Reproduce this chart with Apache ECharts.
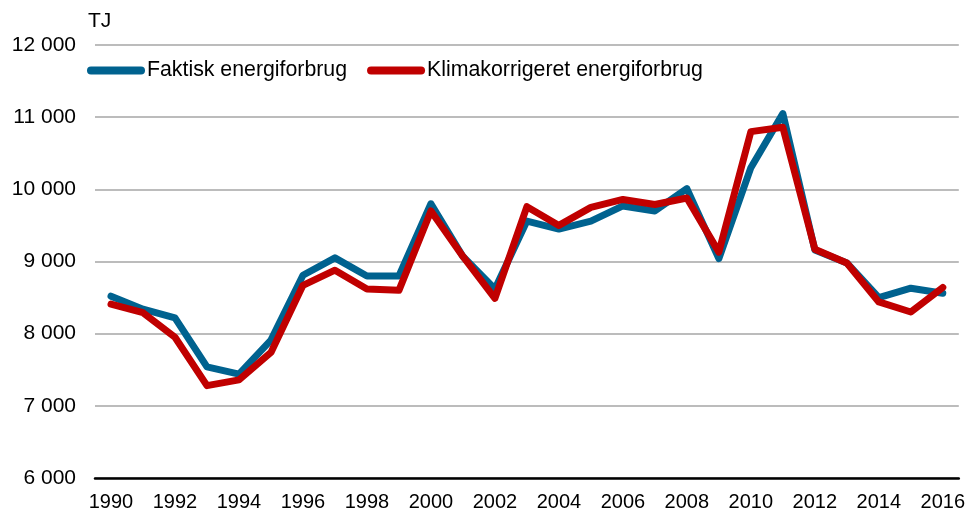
<!DOCTYPE html>
<html>
<head>
<meta charset="utf-8">
<script src="https://cdn.jsdelivr.net/npm/echarts@6/dist/echarts.min.js"></script>
<style>
  html, body { margin: 0; padding: 0; background: #fff; }
  #chart { width: 968px; height: 512px; }
</style>
</head>
<body>
<div id="chart"></div>
<script>
const years = ['1990', '1991', '1992', '1993', '1994', '1995', '1996', '1997', '1998', '1999',
  '2000', '2001', '2002', '2003', '2004', '2005', '2006', '2007', '2008', '2009',
  '2010', '2011', '2012', '2013', '2014', '2015', '2016']

const faktisk = [8520, 8340, 8220, 7540, 7440, 7910, 8810, 9050, 8800, 8800,
  9800, 9070, 8620, 9560, 9450, 9560, 9770, 9700, 10010, 9040,
  10300, 11050, 9160, 8980, 8500, 8630, 8560]

const klima = [8410, 8290, 7950, 7280, 7360, 7740, 8670, 8880, 8620, 8600,
  9700, 9070, 8490, 9760, 9500, 9750, 9860, 9790, 9880, 9130,
  10800, 10860, 9170, 8980, 8440, 8300, 8640]

const seriesNames = ['Faktisk energiforbrug', 'Klimakorrigeret energiforbrug']
const seriesColors = ['#00628F', '#C00000']

const font = 'Liberation Sans, Arial, sans-serif'
const fmt = v => String(v).replace(/\B(?=(\d{3})+(?!\d))/g, ' ')

const chart = echarts.init(document.getElementById('chart'))

const option = {
  animation: false,
  textStyle: { fontFamily: font },
  graphic: [{
    type: 'text',
    left: 88,
    top: 11,
    style: { text: 'TJ', fontSize: 21, fill: '#000', fontFamily: font }
  }],
  legend: {
    left: 82,
    top: 55,
    itemGap: 20,
    itemWidth: 58,
    itemHeight: 8,
    icon: 'path://M4,0 H54 A4,4 0 0 1 54,8 H4 A4,4 0 0 1 4,0 Z',
    textStyle: { fontSize: 21.3, color: '#000', fontFamily: font, padding: [0, 0, 0, -3] },
    data: seriesNames
  },
  grid: { left: 95, right: 6, top: 45, bottom: 34, containLabel: false },
  xAxis: {
    type: 'category',
    data: years,
    boundaryGap: true,
    axisLine: { lineStyle: { color: '#000', width: 2.5 } },
    axisTick: { show: false },
    axisLabel: { interval: 1, fontSize: 20, color: '#000', margin: 14 },
    splitLine: { show: false }
  },
  yAxis: {
    type: 'value',
    min: 6000,
    max: 12000,
    interval: 1000,
    axisLine: { show: false },
    axisTick: { show: false },
    axisLabel: { fontSize: 21, color: '#000', margin: 19, formatter: fmt },
    splitLine: { lineStyle: { color: '#A6A6A6', width: 1.5 } }
  },
  series: [
    {
      name: seriesNames[0],
      type: 'line',
      data: faktisk,
      showSymbol: false,
      color: seriesColors[0],
      lineStyle: { width: 7, color: seriesColors[0], cap: 'round', join: 'round' }
    },
    {
      name: seriesNames[1],
      type: 'line',
      data: klima,
      showSymbol: false,
      color: seriesColors[1],
      lineStyle: { width: 7, color: seriesColors[1], cap: 'round', join: 'round' }
    }
  ]
}

chart.setOption(option)
</script>
</body>
</html>
